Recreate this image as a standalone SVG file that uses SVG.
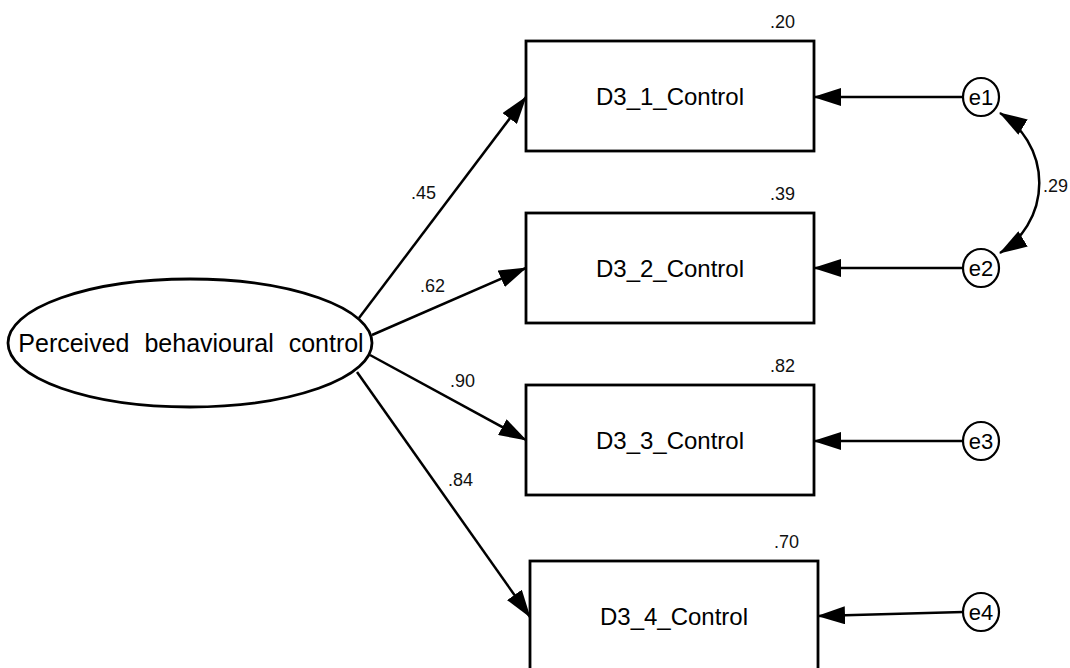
<svg xmlns="http://www.w3.org/2000/svg" width="1070" height="668" viewBox="0 0 1070 668">
  <style>
    .box { fill: #fff; stroke: #000; stroke-width: 2.8; }
    .latent { fill: #fff; stroke: #000; stroke-width: 2.8; }
    .err { fill: #fff; stroke: #000; stroke-width: 2.2; }
    .path { fill: none; stroke: #000; stroke-width: 2.5; marker-end: url(#head); }
    .cov { fill: none; stroke: #000; stroke-width: 2.5; marker-start: url(#head); marker-end: url(#head); }
    .name { font-family: "Liberation Sans", Arial, sans-serif; font-size: 24px; fill: #000; text-anchor: middle; }
    .ename { font-family: "Liberation Sans", Arial, sans-serif; font-size: 22px; fill: #000; text-anchor: middle; }
    .coef { font-family: "Liberation Sans", Arial, sans-serif; font-size: 18px; fill: #111; }
  </style>
  <defs>
    <marker id="head" markerUnits="userSpaceOnUse" markerWidth="28" markerHeight="18" viewBox="0 0 28 18" refX="27" refY="9" orient="auto-start-reverse">
      <path d="M0,0 L28,9 L0,18 z" fill="#000"/>
    </marker>
  </defs>
  <rect width="1070" height="668" fill="#fff"/>

  <!-- regression and error paths -->
  <g id="connectors">
    <path class="path" d="M359,318 L526,97"/>
    <path class="path" d="M372,335 L526,268"/>
    <path class="path" d="M370,355 L526,440"/>
    <path class="path" d="M357,372 L530,617"/>
    <path class="path" d="M963,97 L814,97"/>
    <path class="path" d="M963,268 L814,268"/>
    <path class="path" d="M963,441 L814,441"/>
    <path class="path" d="M963,612 L818,616"/>
    <path class="cov" d="M1000,113 A82,82 0 0 1 1000,253"/>
  </g>

  <!-- path coefficients -->
  <g id="coefficients" class="coef">
    <text x="411" y="199">.45</text>
    <text x="420" y="292">.62</text>
    <text x="450" y="387">.90</text>
    <text x="448" y="486">.84</text>
    <text x="1043" y="192">.29</text>
  </g>

  <g id="latent">
    <ellipse class="latent" cx="190" cy="343" rx="182" ry="64"/>
    <text class="name" x="191" y="352" style="font-size:25px;word-spacing:8px">Perceived behavioural control</text>
  </g>

  <g id="item1">
    <rect class="box" x="526" y="41" width="288" height="110"/>
    <text class="name" x="670" y="105">D3_1_Control</text>
    <text class="coef" x="795" y="28" text-anchor="end">.20</text>
  </g>
  <g id="item2">
    <rect class="box" x="526" y="213" width="288" height="110"/>
    <text class="name" x="670" y="277">D3_2_Control</text>
    <text class="coef" x="795" y="200" text-anchor="end">.39</text>
  </g>
  <g id="item3">
    <rect class="box" x="526" y="385" width="288" height="110"/>
    <text class="name" x="670" y="449">D3_3_Control</text>
    <text class="coef" x="795" y="372" text-anchor="end">.82</text>
  </g>
  <g id="item4">
    <rect class="box" x="530" y="561" width="288" height="110"/>
    <text class="name" x="674" y="625">D3_4_Control</text>
    <text class="coef" x="799" y="548" text-anchor="end">.70</text>
  </g>

  <g id="e1">
    <ellipse class="err" cx="981" cy="97" rx="18" ry="19"/>
    <text class="ename" x="981" y="105">e1</text>
  </g>
  <g id="e2">
    <ellipse class="err" cx="981" cy="268" rx="18" ry="19"/>
    <text class="ename" x="981" y="276">e2</text>
  </g>
  <g id="e3">
    <ellipse class="err" cx="981" cy="441" rx="18" ry="19"/>
    <text class="ename" x="981" y="449">e3</text>
  </g>
  <g id="e4">
    <ellipse class="err" cx="981" cy="612" rx="18" ry="19"/>
    <text class="ename" x="981" y="620">e4</text>
  </g>
</svg>
